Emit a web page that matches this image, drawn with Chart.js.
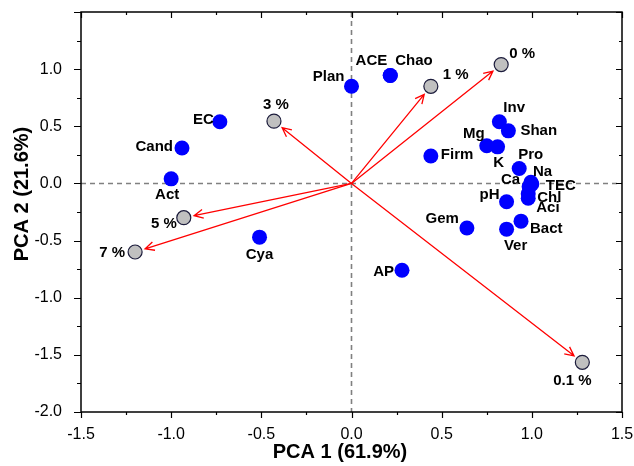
<!DOCTYPE html>
<html lang="en">
<head>
<meta charset="UTF-8">
<title>PCA biplot</title>
<script src="https://cdn.jsdelivr.net/npm/chart.js"></script>
<style>
  html, body { margin: 0; padding: 0; background: #fff; }
  #wrap { width: 634px; height: 466px; }
</style>
</head>
<body>
<div id="wrap"><canvas id="pca" width="634" height="466"></canvas></div>
<script>
  // variables (blue dots)
  const varNames = ['Plan', 'ACE', 'Chao', 'EC', 'Cand', 'Act', 'Cya', 'AP', 'Firm', 'Inv', 'Shan', 'Mg',
                    'K', 'Pro', 'Na', 'Ca', 'TEC', 'Chl', 'Aci', 'pH', 'Gem', 'Ver', 'Bact'];
  const varPC1 = [0.00, 0.215, 0.215, -0.73, -0.94, -1.00, -0.51, 0.28, 0.44, 0.82, 0.87, 0.75,
                  0.81, 0.93, 0.995, 0.985, 1.00, 0.98, 0.98, 0.86, 0.64, 0.86, 0.94];
  const varPC2 = [0.85, 0.945, 0.945, 0.54, 0.31, 0.04, -0.47, -0.76, 0.24, 0.54, 0.46, 0.33,
                  0.32, 0.13, 0.01, -0.03, -0.005, -0.09, -0.13, -0.16, -0.39, -0.40, -0.33];

  // treatments (grey dots + arrows)
  const treatNames = ['0 %', '0.1 %', '1 %', '3 %', '5 %', '7 %'];
  const treatPC1 = [0.83, 1.28, 0.44, -0.43, -0.93, -1.20];
  const treatPC2 = [1.04, -1.565, 0.85, 0.545, -0.30, -0.60];

  // labelled ticks
  const xTickLabels = [-1.5, -1.0, -0.5, 0.0, 0.5, 1.0, 1.5];
  const yTickLabels = [-2.0, -1.5, -1.0, -0.5, 0.0, 0.5, 1.0];

  // label placement: [dx, dy, align] in px from the dot
  const labelPos = {
    'Plan': [-7, -9, 'right'], 'ACE': [-3, -15, 'right'], 'Chao': [5, -15, 'left'],
    'EC': [-6, -2, 'right'], 'Cand': [-9, -1, 'right'], 'Act': [-4, 16, 'center'],
    'Cya': [0, 18, 'center'], 'AP': [-8, 2, 'right'], 'Firm': [10, -1, 'left'],
    'Inv': [4, -14, 'left'], 'Shan': [12, 0, 'left'], 'Mg': [-2, -12, 'right'],
    'K': [1, 16, 'center'], 'Pro': [-1, -14, 'left'], 'Na': [2, -10, 'left'],
    'Ca': [-9, -7, 'right'], 'TEC': [14, 2, 'left'], 'Chl': [9, 4, 'left'],
    'Aci': [8, 10, 'left'], 'pH': [-7, -7, 'right'], 'Gem': [-8, -9, 'right'],
    'Ver': [9, 17, 'center'], 'Bact': [9, 8, 'left'],
    '0 %': [8, -11, 'left'], '0.1 %': [-10, 19, 'center'], '1 %': [12, -11, 'left'],
    '3 %': [2, -16, 'center'], '5 %': [-7, 6, 'right'], '7 %': [-10, 1, 'right']
  };

  const FONT = "'Liberation Sans', Arial, sans-serif";
  const isHalf = v => Math.abs(v * 2 - Math.round(v * 2)) < 1e-6;
  const fmt = v => (Math.abs(v) < 1e-9 ? 0 : v).toFixed(1);

  const biplotDecor = {
    id: 'biplotDecor',
    beforeDatasetsDraw(chart) {
      const { ctx, chartArea: a, scales: { x, y } } = chart;
      const x0 = x.getPixelForValue(0), y0 = y.getPixelForValue(0);
      ctx.save();
      // zero lines
      ctx.strokeStyle = '#808080';
      ctx.lineWidth = 1.6;
      ctx.setLineDash([5, 4]);
      ctx.beginPath();
      ctx.moveTo(x0, a.top); ctx.lineTo(x0, a.bottom);
      ctx.moveTo(a.left, y0); ctx.lineTo(a.right, y0);
      ctx.stroke();
      ctx.setLineDash([]);
      // arrows
      ctx.strokeStyle = '#ff0000';
      ctx.lineWidth = 1.3;
      treatPC1.forEach((v, i) => {
        const tx = x.getPixelForValue(v), ty = y.getPixelForValue(treatPC2[i]);
        const ang = Math.atan2(ty - y0, tx - x0);
        const len = Math.hypot(tx - x0, ty - y0) - 10.5;
        const ex = x0 + len * Math.cos(ang), ey = y0 + len * Math.sin(ang);
        ctx.beginPath();
        ctx.moveTo(x0, y0); ctx.lineTo(ex, ey);
        ctx.moveTo(ex - 10 * Math.cos(ang - 0.45), ey - 10 * Math.sin(ang - 0.45));
        ctx.lineTo(ex, ey);
        ctx.lineTo(ex - 10 * Math.cos(ang + 0.45), ey - 10 * Math.sin(ang + 0.45));
        ctx.stroke();
      });
      ctx.restore();
    },
    afterDatasetsDraw(chart) {
      const { ctx, chartArea: a, scales: { x, y } } = chart;
      ctx.save();
      // point labels
      ctx.fillStyle = '#000';
      ctx.font = 'bold 15px ' + FONT;
      ctx.textBaseline = 'middle';
      const put = (name, vx, vy) => {
        const p = labelPos[name] || [8, 0, 'left'];
        ctx.textAlign = p[2];
        ctx.fillText(name, x.getPixelForValue(vx) + p[0], y.getPixelForValue(vy) + p[1]);
      };
      varNames.forEach((n, i) => put(n, varPC1[i], varPC2[i]));
      treatNames.forEach((n, i) => put(n, treatPC1[i], treatPC2[i]));

      // frame
      ctx.strokeStyle = '#000';
      ctx.lineWidth = 1.5;
      ctx.strokeRect(a.left, a.top, a.right - a.left, a.bottom - a.top);

      // tick marks
      ctx.lineWidth = 1.2;
      ctx.beginPath();
      x.ticks.forEach(t => {
        const p = Math.round(x.getPixelForValue(t.value)) + 0.5;
        const m = isHalf(t.value);
        ctx.moveTo(p, a.bottom); ctx.lineTo(p, a.bottom + (m ? 6 : 3));
        ctx.moveTo(p, a.top); ctx.lineTo(p, a.top + (m ? 6 : 3));
      });
      y.ticks.forEach(t => {
        const p = Math.round(y.getPixelForValue(t.value)) + 0.5;
        const m = isHalf(t.value);
        ctx.moveTo(a.left, p); ctx.lineTo(a.left - (m ? 7 : 4), p);
        ctx.moveTo(a.right, p); ctx.lineTo(a.right - (m ? 6 : 3), p);
      });
      ctx.stroke();

      // axis titles
      ctx.font = 'bold 20px ' + FONT;
      ctx.textAlign = 'center';
      ctx.textBaseline = 'middle';
      ctx.fillText('PCA 1 (61.9%)', 340, 452);
      ctx.translate(22, 194);
      ctx.rotate(-Math.PI / 2);
      ctx.fillText('PCA 2 (21.6%)', 0, 0);
      ctx.restore();
    }
  };

  const ctx = document.getElementById('pca').getContext('2d');
  new Chart(ctx, {
    type: 'scatter',
    data: {
      datasets: [
        {
          label: 'variables',
          data: varPC1.map((v, i) => ({ x: v, y: varPC2[i] })),
          backgroundColor: '#0000ff',
          borderColor: '#0000ff',
          borderWidth: 0,
          pointRadius: 7.5,
          pointHoverRadius: 7.5
        },
        {
          label: 'treatments',
          data: treatPC1.map((v, i) => ({ x: v, y: treatPC2[i] })),
          backgroundColor: '#c0c0c0',
          borderColor: '#1c1c3c',
          borderWidth: 1.2,
          pointRadius: 7,
          pointHoverRadius: 7
        }
      ]
    },
    options: {
      responsive: false,
      animation: false,
      layout: { padding: { top: 12, right: 12, left: 0, bottom: 0 } },
      plugins: {
        legend: { display: false },
        tooltip: { enabled: true }
      },
      scales: {
        x: {
          type: 'linear',
          min: -1.5,
          max: 1.5,
          grid: { display: false },
          border: { display: false },
          ticks: {
            stepSize: 0.25,
            autoSkip: false,
            maxRotation: 0,
            padding: 5,
            color: '#000',
            font: { family: FONT, size: 16 },
            callback: v => xTickLabels.some(t => Math.abs(t - v) < 1e-6) ? fmt(v) : ''
          },
          afterFit: s => { s.height = 54; s.paddingLeft = 0; s.paddingRight = 0; }
        },
        y: {
          type: 'linear',
          min: -2.0,
          max: 1.5,
          grid: { display: false },
          border: { display: false },
          ticks: {
            stepSize: 0.25,
            autoSkip: false,
            padding: 11,
            color: '#000',
            font: { family: FONT, size: 16 },
            callback: v => yTickLabels.some(t => Math.abs(t - v) < 1e-6) ? fmt(v) : ''
          },
          afterFit: s => { s.width = 81; s.paddingTop = 0; s.paddingBottom = 0; }
        }
      }
    },
    plugins: [biplotDecor]
  });
</script>
</body>
</html>
